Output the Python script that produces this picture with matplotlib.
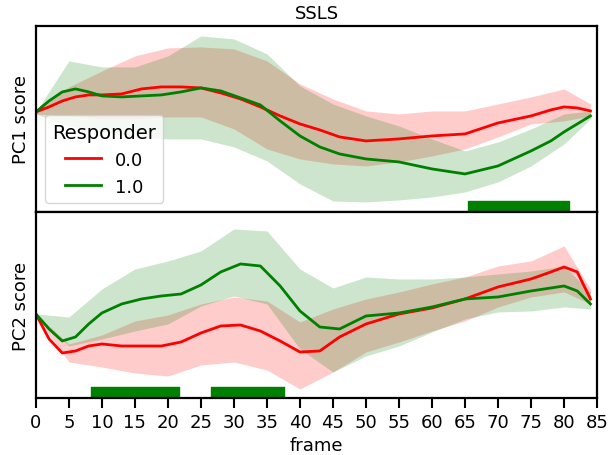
import numpy as np
import matplotlib
matplotlib.use("Agg")
import matplotlib.pyplot as plt

# frames for the mean curves
frames = [0, 2, 4, 6, 8, 10, 13, 16, 19, 22, 25, 28, 31, 34, 37, 40, 43, 46, 50,
          55, 60, 65, 70, 75, 78, 80, 82, 84]
# frames for the spread bands
band_frames = [0, 5, 10, 15, 20, 25, 30, 35, 40, 45, 50, 55, 60, 65, 70, 75, 80, 84]

# PC1 score
pc1_mean_0 = [0, 5, 11, 15, 17, 17, 18, 23, 25, 25, 24, 19, 13, 5, -4, -12, -18, -25, -29,
              -27, -24, -22, -11, -4, 2, 5, 4, 1]
pc1_mean_1 = [0, 11, 20, 23, 20, 16, 15, 16, 17, 20, 24, 21, 14, 7, -9, -24, -35, -42, -47,
              -50, -57, -62, -54, -39, -29, -20, -12, -4]
pc1_hi_0 = [0, 25, 41, 56, 64, 65, 63, 51, 28, 13, 1, -2, 1, 1, 8, 15, 23, 8]
pc1_lo_0 = [-2, -4, -7, -7, -5, -5, -17, -37, -47, -52, -54, -50, -44, -37, -25, -12, -9, -4]
pc1_hi_1 = [0, 51, 45, 45, 56, 76, 73, 58, 26, 8, -4, -14, -27, -39, -30, -17, -2, 1]
pc1_lo_1 = [-2, -14, -20, -25, -27, -27, -35, -49, -72, -89, -90, -88, -85, -80, -70, -54, -32, -7]

# PC2 score
pc2_mean_0 = [0, -25, -39, -37, -32, -30, -32, -32, -32, -28, -19, -12, -11, -17, -27, -38, -37,
              -23, -10, 0, 6, 15, 27, 35, 42, 47, 42, 15]
pc2_mean_1 = [0, -15, -27, -23, -10, 1, 10, 15, 18, 20, 29, 42, 50, 48, 28, 3, -13, -15, -2,
              1, 7, 15, 17, 23, 26, 28, 23, 10]
pc2_hi_0 = [0, -30, -21, -7, -1, 10, 17, 13, -8, 5, 15, 22, 30, 37, 48, 53, 68, 25]
pc2_lo_0 = [-2, -48, -53, -59, -62, -51, -48, -56, -75, -58, -38, -28, -17, -7, 7, 17, 22, 10]
pc2_hi_1 = [0, -3, 25, 45, 53, 63, 85, 83, 45, 26, 37, 35, 35, 37, 40, 43, 48, 22]
pc2_lo_1 = [-2, -32, -25, -17, -10, 8, 18, 10, -35, -58, -42, -32, -18, -5, 2, 3, 7, 5]

# significant frame ranges
sig_pc1 = [(65.5, 80.7)]
sig_pc2 = [(8.3, 21.7), (26.5, 37.6)]

groups = ["0.0", "1.0"]
colors = ["red", "green"]

fig = plt.figure(figsize=(6.08, 4.56), dpi=100)
ax1 = fig.add_axes([0.059, 0.533, 0.923, 0.408])
ax2 = fig.add_axes([0.059, 0.125, 0.923, 0.408], sharex=ax1)

panels = [
    (ax1, [pc1_mean_0, pc1_mean_1], [(pc1_lo_0, pc1_hi_0), (pc1_lo_1, pc1_hi_1)],
     sig_pc1, "PC1 score", (-100, 86), (-98, 9)),
    (ax2, [pc2_mean_0, pc2_mean_1], [(pc2_lo_0, pc2_hi_0), (pc2_lo_1, pc2_hi_1)],
     sig_pc2, "PC2 score", (-84, 102), (-83, 10)),
]

for ax, means, bands, sig, ylab, ylim, bar in panels:
    for (lo, hi), c in zip(bands, colors):
        ax.fill_between(band_frames, lo, hi, color=c, alpha=0.2, lw=0)
    for m, c, g in zip(means, colors, groups):
        ax.plot(frames, m, color=c, lw=2, label=g)
    ax.broken_barh([(a, b - a) for a, b in sig], bar, color="green")
    ax.set_ylim(*ylim)
    ax.set_yticks([])
    ax.set_ylabel(ylab, fontsize=13)
    for s in ax.spines.values():
        s.set_linewidth(1.6)

ax1.set_xlim(0, 85)
ax1.set_title("SSLS", fontsize=13)
ax1.tick_params(axis="x", bottom=False, labelbottom=False)
leg = ax1.legend(title="Responder", loc="lower left", fontsize=13, title_fontsize=14,
                 bbox_to_anchor=(0.0, 0.0))

ax2.set_xticks(np.arange(0, 86, 5))
ax2.tick_params(axis="x", labelsize=13, length=7, width=1.5)
ax2.set_xlabel("frame", fontsize=13)

fig.savefig("out.png", dpi=100)
